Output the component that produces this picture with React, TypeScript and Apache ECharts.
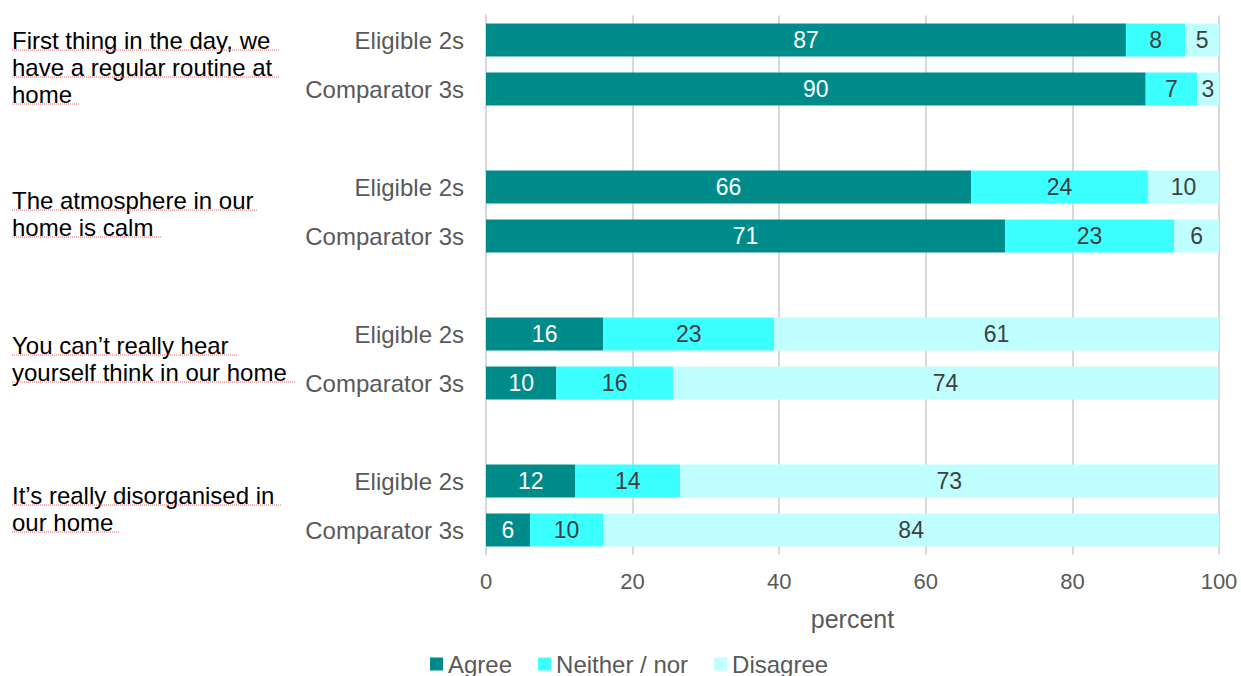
import React, { useEffect, useRef } from "react";
import * as echarts from "echarts";

const rowLabels = [
  "Eligible 2s", "Comparator 3s", "",
  "Eligible 2s", "Comparator 3s", "",
  "Eligible 2s", "Comparator 3s", "",
  "Eligible 2s", "Comparator 3s",
];
const rowIds = ["e1", "c1", "g1", "e2", "c2", "g2", "e3", "c3", "g3", "e4", "c4"];

const agree = [87.3, 90.0, null, 66.2, 70.8, null, 16.0, 9.6, null, 12.2, 6.0];
const neither = [8.1, 7.0, null, 24.1, 23.1, null, 23.3, 15.9, null, 14.3, 10.0];
const disagree = [4.6, 3.0, null, 9.7, 6.1, null, 60.7, 74.4, null, 73.4, 84.0];

const xTicks = [0, 20, 40, 60, 80, 100];

const statementLines = [
  { text: "First thing in the day, we", y: 40, ul: 280 },
  { text: "have a regular routine at", y: 67, ul: 280 },
  { text: "home", y: 94, ul: 80 },
  { text: "The atmosphere in our", y: 200, ul: 258 },
  { text: "home is calm", y: 227, ul: 161 },
  { text: "You can\u2019t really hear", y: 345, ul: 237 },
  { text: "yourself think in our home", y: 372, ul: 295 },
  { text: "It\u2019s really disorganised in", y: 495, ul: 282 },
  { text: "our home", y: 522, ul: 120 },
];

const FONT = "'Liberation Sans', Arial, sans-serif";

export default function App() {
  const ref = useRef<HTMLDivElement>(null);
  useEffect(() => {
    if (!ref.current) return;
    const chart = echarts.init(ref.current, undefined, { renderer: "svg" });
    const mk = (name: string, data: (number | null)[], color: string, labelColor: string) => ({
      name,
      type: "bar",
      stack: "total",
      barWidth: 33,
      data: data.map((v) => (v == null ? "-" : v)),
      itemStyle: { color },
      label: {
        show: true,
        position: "inside",
        color: labelColor,
        fontSize: 23,
        fontFamily: FONT,
        formatter: (p: any) => String(Math.round(p.value)),
      },
    });
    const graphics: any[] = [];
    statementLines.forEach((l) => {
      graphics.push({
        type: "text",
        x: 12,
        y: l.y,
        style: {
          text: l.text,
          fill: "#000",
          fontSize: 24,
          fontFamily: FONT,
          verticalAlign: "middle",
        },
      });
      graphics.push({
        type: "line",
        shape: { x1: 12, y1: l.y + 10, x2: l.ul, y2: l.y + 10 },
        style: { stroke: "#e06666", lineWidth: 1, lineDash: [1, 1] },
      });
    });
    chart.setOption({
      animation: false,
      textStyle: { fontFamily: FONT },
      grid: { left: 486, right: 22, top: 15.5, bottom: 121.5, containLabel: false },
      xAxis: {
        type: "value",
        min: 0,
        max: 100,
        interval: 20,
        name: "percent",
        nameLocation: "middle",
        nameGap: 52,
        nameTextStyle: { color: "#595959", fontSize: 25, fontFamily: FONT },
        axisLine: { show: false },
        axisTick: { show: false },
        axisLabel: {
          color: "#595959",
          fontSize: 22,
          margin: 16,
          fontFamily: FONT,
          formatter: (v: number) => (xTicks.includes(v) ? String(v) : ""),
        },
        splitLine: { show: true, lineStyle: { color: "#d9d9d9", width: 2 } },
      },
      yAxis: {
        type: "category",
        inverse: true,
        data: rowIds,
        axisLine: { show: true, lineStyle: { color: "#d9d9d9", width: 2 } },
        axisTick: { show: false },
        axisLabel: {
          color: "#595959",
          fontSize: 24,
          margin: 22,
          fontFamily: FONT,
          formatter: (_v: string, i: number) => rowLabels[i],
        },
      },
      legend: {
        bottom: -5,
        left: 425,
        icon: "rect",
        itemWidth: 13,
        itemHeight: 13,
        itemGap: 26,
        textStyle: { color: "#595959", fontSize: 24, fontFamily: FONT },
        data: ["Agree", "Neither / nor", "Disagree"],
      },
      graphic: graphics,
      series: [
        mk("Agree", agree, "#008B8B", "#ffffff"),
        mk("Neither / nor", neither, "#3CFFFF", "#404040"),
        mk("Disagree", disagree, "#BFFFFF", "#404040"),
      ],
    });
    return () => chart.dispose();
  }, []);
  return <div ref={ref} style={{ width: 1241, height: 676, position: "absolute", left: 0, top: 0 }} />;
}
